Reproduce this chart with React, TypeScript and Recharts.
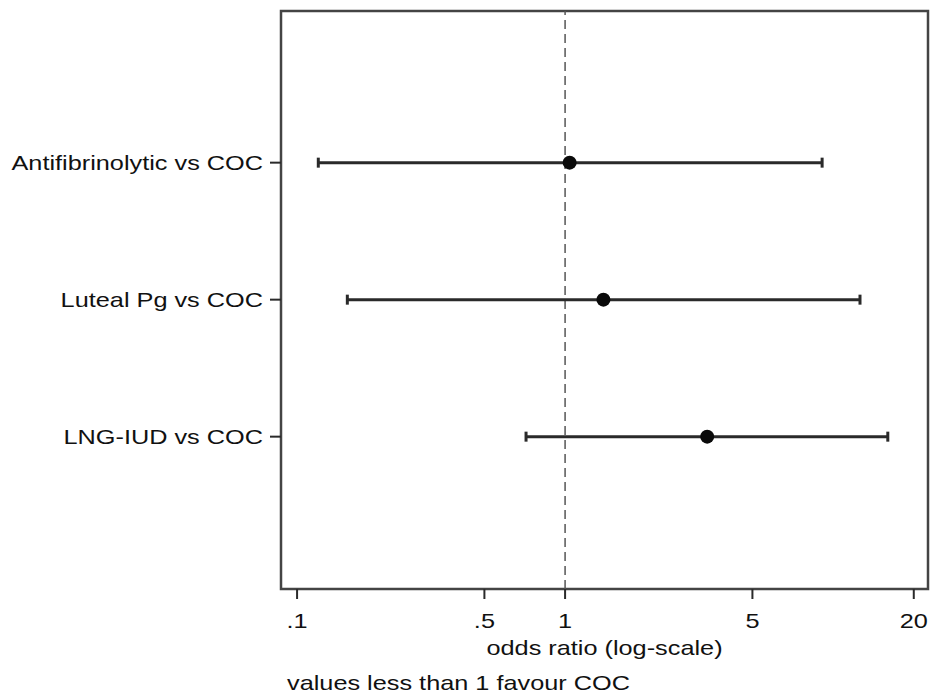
import React from "react";
import {
  ScatterChart,
  Scatter,
  XAxis,
  YAxis,
  ErrorBar,
  ReferenceLine,
  ReferenceArea,
} from "recharts";

// comparisons, top to bottom
const comparisons = ["Antifibrinolytic vs COC", "Luteal Pg vs COC", "LNG-IUD vs COC"];
const oddsRatio = [1.04, 1.39, 3.39];
const ciLow = [0.12, 0.154, 0.715];
const ciHigh = [9.1, 12.6, 16.0];

const xTicks = [0.1, 0.5, 1, 5, 20];
const xTickLabels = [".1", ".5", "1", "5", "20"];
const xDomain = [0.0871, 22.6];
const yDomain = [-0.107, 4.112];

const FONT = "'Liberation Sans', Arial, Helvetica, sans-serif";
const TEXT = "#111";
const INK = "#2a2a2a";

// Stata text looks horizontally stretched in the picture
function StretchText({ x, y, anchor, children }: { x: number; y: number; anchor: "start" | "middle" | "end"; children: React.ReactNode }) {
  return (
    <g transform={`translate(${x},${y}) scale(1.265,1.02)`}>
      <text x={0} y={0} textAnchor={anchor} dominantBaseline="central" fontFamily={FONT} fontSize={20} fill={TEXT}>
        {children}
      </text>
    </g>
  );
}

const rows = comparisons.map((name, i) => ({
  name,
  row: i + 1,
  or: oddsRatio[i],
  err: [oddsRatio[i] - ciLow[i], ciHigh[i] - oddsRatio[i]],
}));

const XTick = (props: any) => {
  const i = xTicks.indexOf(props.payload.value);
  return <StretchText x={props.x} y={props.y} anchor="middle">{xTickLabels[i] ?? props.payload.value}</StretchText>;
};

const YTick = (props: any) => (
  <StretchText x={props.x} y={props.y} anchor="end">{comparisons[props.payload.value - 1]}</StretchText>
);

const AxisNotes = (props: any) => {
  const vb = props.viewBox;
  return (
    <g>
      <StretchText x={vb.x + vb.width / 2} y={vb.y + 59} anchor="middle">odds ratio (log-scale)</StretchText>
      <StretchText x={vb.x + 6} y={vb.y + 94} anchor="start">values less than 1 favour COC</StretchText>
    </g>
  );
};

export default function App() {
  return (
    <div style={{ position: "absolute", left: 0, top: 0, background: "#fff" }}>
      <ScatterChart width={931} height={699} margin={{ top: 11, right: 3, bottom: 0, left: 0 }}>
        <XAxis
          type="number"
          dataKey="or"
          scale="log"
          domain={xDomain}
          allowDataOverflow
          ticks={xTicks}
          interval={0}
          height={110}
          axisLine={false}
          tickLine={{ stroke: INK, strokeWidth: 2 }}
          tickSize={10}
          tickMargin={22}
          tick={<XTick />}
          label={{ content: <AxisNotes /> }}
        />
        <YAxis
          type="number"
          dataKey="row"
          domain={yDomain}
          reversed
          allowDataOverflow
          ticks={[1, 2, 3]}
          interval={0}
          width={281}
          axisLine={false}
          tickLine={{ stroke: INK, strokeWidth: 2 }}
          tickSize={11}
          tickMargin={7}
          tick={<YTick />}
        />
        <ReferenceArea
          x1={xDomain[0]}
          x2={xDomain[1]}
          y1={yDomain[0]}
          y2={yDomain[1]}
          fill="none"
          fillOpacity={0}
          stroke="#444"
          strokeWidth={2.5}
          ifOverflow="extendDomain"
        />
        <ReferenceLine x={1} stroke="#555" strokeWidth={1.5} strokeDasharray="9 5" />
        <Scatter
          data={rows}
          isAnimationActive={false}
          shape={(p: any) => <circle cx={p.cx} cy={p.cy} r={7} fill="#0a0a0a" />}
        >
          <ErrorBar dataKey="err" direction="x" width={5} stroke={INK} strokeWidth={3} isAnimationActive={false} />
        </Scatter>
      </ScatterChart>
    </div>
  );
}
